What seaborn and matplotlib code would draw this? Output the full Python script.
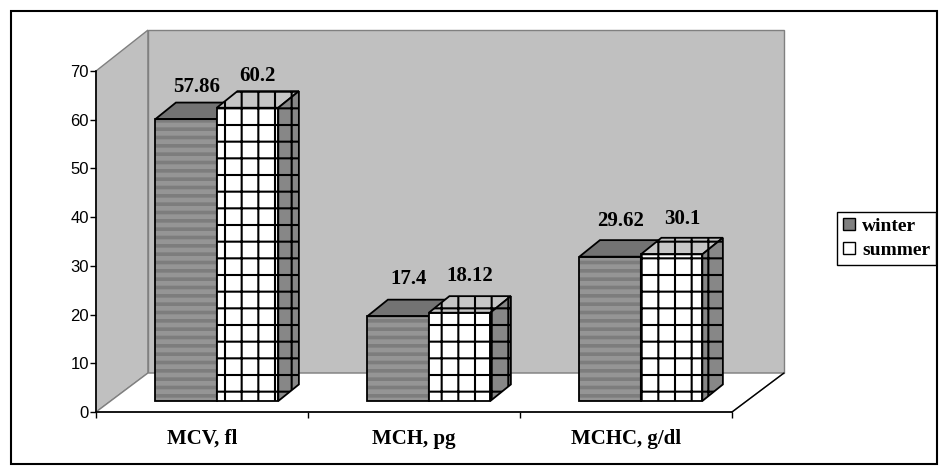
"""
Gráfico de barras pseudo-3D: índices eritrocitarios por estación.
"""

import matplotlib
matplotlib.use('Agg')
import matplotlib.pyplot as plt
from matplotlib.patches import Polygon, Rectangle, Patch
import seaborn as sns
import pandas as pd

# Datos
parametros = ['MCV, fl', 'MCH, pg', 'MCHC, g/dl']
estaciones = ['winter', 'summer']
invierno = [57.86, 17.4, 29.62]
verano = [60.2, 18.12, 30.1]
ticks_y = [0, 10, 20, 30, 40, 50, 60, 70]

# Geometría de la falsa perspectiva (en unidades de datos)
PARED_DX, PARED_DY, PARED_DY_SUP = 0.245, 8.0, 8.4
BARRA_DX, BARRA_DY = 0.097, 3.4
BARRA_BASE, BARRA_DESPL = 2.26, 0.07
ETIQ_BASE, ETIQ_ESC = 9.3, 0.975

SERIF = 'Liberation Serif'
SANS = 'Liberation Sans'

sns.set_style('white')
plt.rcParams['hatch.linewidth'] = 1.5
plt.rcParams['text.color'] = 'black'
plt.rcParams['xtick.color'] = 'black'
plt.rcParams['ytick.color'] = 'black'

df = pd.DataFrame({
    'parametro': parametros * len(estaciones),
    'estacion': [e for e in estaciones for _ in parametros],
    'valor': invierno + verano,
})

fig = plt.figure(figsize=(9.39, 4.66), dpi=100)
ax = fig.add_axes([96 / 939, 54 / 466, 636 / 939, 341 / 466])
ax.patch.set_visible(False)

sns.barplot(data=df, x='parametro', y='valor', hue='estacion', order=parametros,
            hue_order=estaciones, palette={'winter': '#999999', 'summer': 'white'},
            width=0.58, saturation=1, errorbar=None, legend=False, ax=ax)

x_min, x_max = -0.5, len(parametros) - 0.5
y_max = ticks_y[-1]

# Paredes y suelo
gris_pared = '#c0c0c0'
borde_pared = '#808080'
ax.add_patch(Polygon([(x_min, 0), (x_min, y_max), (x_min + PARED_DX, y_max + PARED_DY_SUP),
                      (x_min + PARED_DX, PARED_DY)], closed=True, facecolor=gris_pared,
                     edgecolor=borde_pared, lw=1, clip_on=False, zorder=0.5))
ax.add_patch(Polygon([(x_min + PARED_DX, PARED_DY), (x_max + PARED_DX, PARED_DY),
                      (x_max + PARED_DX, y_max + PARED_DY_SUP), (x_min + PARED_DX, y_max + PARED_DY_SUP)],
                     closed=True, facecolor=gris_pared, edgecolor=borde_pared, lw=1,
                     clip_on=False, zorder=0.5))
ax.add_patch(Polygon([(x_min, 0), (x_max, 0), (x_max + PARED_DX, PARED_DY),
                      (x_min + PARED_DX, PARED_DY)], closed=True, facecolor='white',
                     edgecolor=borde_pared, lw=1, clip_on=False, zorder=0.6))
ax.plot([x_max, x_max + PARED_DX], [0, PARED_DY], color='black', lw=1, clip_on=False, zorder=0.7)

# Estilo de cada serie
estilos = {
    'winter': dict(frente='#959595', trama='--', color_trama='#7d7d7d', grosor=2.6,
                   tapa='#737373', lado='#5e5e5e'),
    'summer': dict(frente='white', trama='+', color_trama='black', grosor=1.5,
                   tapa='#c6c6c6', lado='#878787'),
}

for i, (estacion, contenedor) in enumerate(zip(estaciones, ax.containers)):
    est = estilos[estacion]
    z = 3 + i
    for barra, valor in zip(contenedor.patches, contenedor.datavalues):
        x0 = barra.get_x() + BARRA_DESPL
        w = barra.get_width()
        barra.set_x(x0)
        barra.set_y(BARRA_BASE)
        barra.set_facecolor(est['frente'])
        barra.set_edgecolor(est['color_trama'])
        barra.set_hatch(est['trama'])
        if hasattr(barra, 'set_hatch_linewidth'):
            barra.set_hatch_linewidth(est['grosor'])
        barra.set_linewidth(0)
        barra.set_zorder(z)
        y1 = BARRA_BASE + valor
        ax.add_patch(Rectangle((x0, BARRA_BASE), w, valor, fill=False, edgecolor='black',
                               lw=1.3, zorder=z + 0.2))
        trama_caras = est['trama'] if estacion == 'summer' else None
        # cara superior
        ax.add_patch(Polygon([(x0, y1), (x0 + w, y1), (x0 + w + BARRA_DX, y1 + BARRA_DY),
                              (x0 + BARRA_DX, y1 + BARRA_DY)], closed=True,
                             facecolor=est['tapa'], edgecolor='black', lw=1.3,
                             hatch=trama_caras, zorder=z + 0.1))
        # cara lateral
        ax.add_patch(Polygon([(x0 + w, BARRA_BASE), (x0 + w + BARRA_DX, BARRA_BASE + BARRA_DY),
                              (x0 + w + BARRA_DX, y1 + BARRA_DY), (x0 + w, y1)], closed=True,
                             facecolor=est['lado'], edgecolor='black', lw=1.3,
                             hatch=trama_caras, zorder=z + 0.1))
        ax.text(x0 + w / 2 + BARRA_DX / 2, ETIQ_BASE + ETIQ_ESC * valor, f'{valor:g}',
                ha='center', va='baseline', fontsize=15, fontweight='bold', family=SERIF,
                color='black', zorder=10, clip_on=False)

# Ejes
ax.set_xlim(x_min, x_max)
ax.set_ylim(0, y_max)
ax.set_xlabel('')
ax.set_ylabel('')
for lado in ['top', 'right']:
    ax.spines[lado].set_visible(False)
for lado in ['left', 'bottom']:
    ax.spines[lado].set_color('black')
    ax.spines[lado].set_linewidth(1.2)
    ax.spines[lado].set_zorder(1)
ax.set_yticks(ticks_y)
ax.set_yticklabels([str(t) for t in ticks_y], family=SANS, fontsize=12, color='black')
ax.tick_params(axis='y', direction='out', length=4, width=1, color='black', pad=1, left=True)
ax.set_xticks([x_min + k for k in range(len(parametros) + 1)])
ax.set_xticklabels([])
ax.set_xticks(range(len(parametros)), minor=True)
ax.set_xticklabels(parametros, minor=True, family=SERIF, fontsize=15, fontweight='bold', color='black')
ax.tick_params(axis='x', which='major', direction='out', length=4, width=1, color='black', bottom=True)
ax.tick_params(axis='x', which='minor', length=0, pad=12)

# Leyenda
manejadores = [Patch(facecolor='#808080', edgecolor='black', lw=1),
               Patch(facecolor='white', edgecolor='black', lw=1)]
leg = fig.legend(manejadores, estaciones, loc='upper left', bbox_to_anchor=(837 / 939, 1 - 212 / 466),
                 frameon=True, fancybox=False, framealpha=1, edgecolor='black', borderaxespad=0,
                 borderpad=0.3, handlelength=0.6, handleheight=0.6, handletextpad=0.4,
                 labelspacing=0.35, prop=dict(family=SERIF, weight='bold', size=14))
leg.get_frame().set_linewidth(1)
for texto in leg.get_texts():
    texto.set_color('black')

# Marco exterior
fig.add_artist(Rectangle((11 / 939, 2 / 466), 926 / 939, 453 / 466, transform=fig.transFigure,
                         fill=False, edgecolor='black', lw=1.5))

plt.savefig('out.png', dpi=100)
plt.close()
